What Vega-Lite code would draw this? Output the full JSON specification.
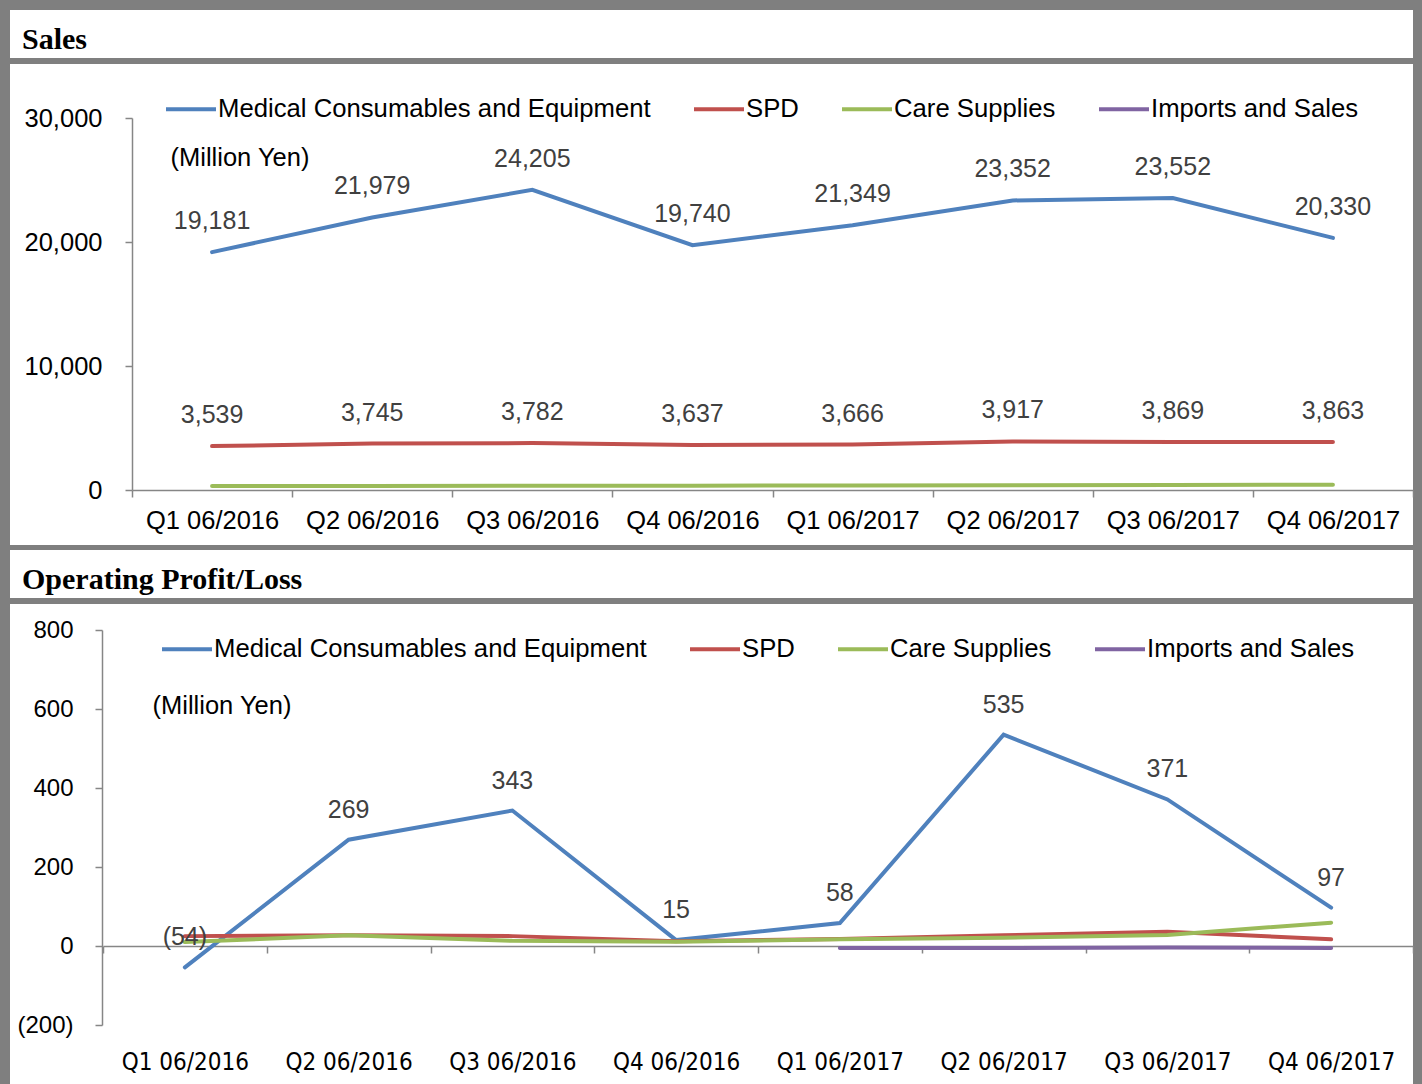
{
  "$schema": "https://vega.github.io/schema/vega-lite/v6.json",
  "background": "#7f7f7f",
  "padding": {"left": 10, "top": 10, "right": 9, "bottom": 0},
  "config": {
    "view": {"fill": "white", "stroke": null},
    "font": "Liberation Sans"
  },
  "resolve": {"scale": {"color": "independent"}, "legend": {"color": "independent"}},
  "datasets": {
    "sales": [
      {"q": "Q1 06/2016", "s": "Medical Consumables and Equipment", "v": 19181},
      {"q": "Q2 06/2016", "s": "Medical Consumables and Equipment", "v": 21979},
      {"q": "Q3 06/2016", "s": "Medical Consumables and Equipment", "v": 24205},
      {"q": "Q4 06/2016", "s": "Medical Consumables and Equipment", "v": 19740},
      {"q": "Q1 06/2017", "s": "Medical Consumables and Equipment", "v": 21349},
      {"q": "Q2 06/2017", "s": "Medical Consumables and Equipment", "v": 23352},
      {"q": "Q3 06/2017", "s": "Medical Consumables and Equipment", "v": 23552},
      {"q": "Q4 06/2017", "s": "Medical Consumables and Equipment", "v": 20330},
      {"q": "Q1 06/2016", "s": "SPD", "v": 3539},
      {"q": "Q2 06/2016", "s": "SPD", "v": 3745},
      {"q": "Q3 06/2016", "s": "SPD", "v": 3782},
      {"q": "Q4 06/2016", "s": "SPD", "v": 3637},
      {"q": "Q1 06/2017", "s": "SPD", "v": 3666},
      {"q": "Q2 06/2017", "s": "SPD", "v": 3917},
      {"q": "Q3 06/2017", "s": "SPD", "v": 3869},
      {"q": "Q4 06/2017", "s": "SPD", "v": 3863},
      {"q": "Q1 06/2016", "s": "Care Supplies", "v": 320},
      {"q": "Q2 06/2016", "s": "Care Supplies", "v": 330},
      {"q": "Q3 06/2016", "s": "Care Supplies", "v": 340},
      {"q": "Q4 06/2016", "s": "Care Supplies", "v": 350},
      {"q": "Q1 06/2017", "s": "Care Supplies", "v": 370},
      {"q": "Q2 06/2017", "s": "Care Supplies", "v": 390},
      {"q": "Q3 06/2017", "s": "Care Supplies", "v": 410},
      {"q": "Q4 06/2017", "s": "Care Supplies", "v": 430}
    ],
    "profit": [
      {"q": "Q1 06/2016", "s": "Medical Consumables and Equipment", "v": -54},
      {"q": "Q2 06/2016", "s": "Medical Consumables and Equipment", "v": 269},
      {"q": "Q3 06/2016", "s": "Medical Consumables and Equipment", "v": 343},
      {"q": "Q4 06/2016", "s": "Medical Consumables and Equipment", "v": 15},
      {"q": "Q1 06/2017", "s": "Medical Consumables and Equipment", "v": 58},
      {"q": "Q2 06/2017", "s": "Medical Consumables and Equipment", "v": 535},
      {"q": "Q3 06/2017", "s": "Medical Consumables and Equipment", "v": 371},
      {"q": "Q4 06/2017", "s": "Medical Consumables and Equipment", "v": 97},
      {"q": "Q1 06/2016", "s": "SPD", "v": 25},
      {"q": "Q2 06/2016", "s": "SPD", "v": 27},
      {"q": "Q3 06/2016", "s": "SPD", "v": 25},
      {"q": "Q4 06/2016", "s": "SPD", "v": 12},
      {"q": "Q1 06/2017", "s": "SPD", "v": 18},
      {"q": "Q2 06/2017", "s": "SPD", "v": 27},
      {"q": "Q3 06/2017", "s": "SPD", "v": 36},
      {"q": "Q4 06/2017", "s": "SPD", "v": 17},
      {"q": "Q1 06/2016", "s": "Care Supplies", "v": 10},
      {"q": "Q2 06/2016", "s": "Care Supplies", "v": 27},
      {"q": "Q3 06/2016", "s": "Care Supplies", "v": 13},
      {"q": "Q4 06/2016", "s": "Care Supplies", "v": 11},
      {"q": "Q1 06/2017", "s": "Care Supplies", "v": 17},
      {"q": "Q2 06/2017", "s": "Care Supplies", "v": 21},
      {"q": "Q3 06/2017", "s": "Care Supplies", "v": 28},
      {"q": "Q4 06/2017", "s": "Care Supplies", "v": 59},
      {"q": "Q1 06/2017", "s": "Imports and Sales", "v": -5},
      {"q": "Q2 06/2017", "s": "Imports and Sales", "v": -5},
      {"q": "Q3 06/2017", "s": "Imports and Sales", "v": -4},
      {"q": "Q4 06/2017", "s": "Imports and Sales", "v": -5}
    ]
  },
  "vconcat": [
    {
      "spacing": 6,
      "resolve": {"scale": {"color": "independent"}, "legend": {"color": "independent"}},
      "vconcat": [
        {
          "width": 1403,
          "height": 48,
          "data": {"values": [{"h": "Sales"}]},
          "mark": {"type": "rect", "fill": "white"},
          "title": {"text": "Sales", "anchor": "start", "frame": "group", "orient": "top", "offset": -37, "dx": 12, "dy": 31.5, "baseline": "alphabetic", "font": "Liberation Serif", "fontSize": 30, "fontWeight": "bold", "color": "black"}
        },
        {
          "width": 1403,
          "height": 481,
          "data": {"name": "sales"},
          "encoding": {
            "x": {
              "field": "q", "type": "ordinal", "bandPosition": 0.5,
              "sort": ["Q1 06/2016", "Q2 06/2016", "Q3 06/2016", "Q4 06/2016", "Q1 06/2017", "Q2 06/2017", "Q3 06/2017", "Q4 06/2017"],
              "scale": {"type": "band", "range": [122, 1403], "paddingInner": 0, "paddingOuter": 0},
              "axis": {"orient": "bottom", "offset": -55, "title": null, "tickBand": "extent", "labelAngle": 0, "labelPadding": 11, "labelBaseline": "top", "tickSize": 7, "labelFont": "Liberation Sans", "labelFontSize": 25.5, "labelColor": "black", "labelLimit": 400, "domainColor": "#868686", "tickColor": "#868686", "domainWidth": 1.5, "tickWidth": 1.5, "grid": false}
            },
            "y": {
              "field": "v", "type": "quantitative",
              "scale": {"domain": [0, 30000], "range": [426, 54], "nice": false, "zero": false},
              "axis": {"orient": "left", "offset": -122, "values": [0, 10000, 20000, 30000], "format": ",.0f", "labelPadding": 23, "tickSize": 7, "labelFont": "Liberation Sans", "labelFontSize": 25.5, "labelColor": "black", "domainColor": "#868686", "tickColor": "#868686", "domainWidth": 1.5, "tickWidth": 1.5, "grid": false,
                "title": "(Million Yen)", "titleAngle": 0, "titleX": 38, "titleY": 93, "titleAlign": "left", "titleBaseline": "middle", "titleFont": "Liberation Sans", "titleFontSize": 25.5, "titleFontWeight": "normal", "titleColor": "black"}
            }
          },
          "layer": [
            {
              "mark": {"type": "line", "strokeWidth": 4, "strokeCap": "round"},
              "encoding": {
                "color": {
                  "field": "s", "type": "nominal",
                  "scale": {"domain": ["Medical Consumables and Equipment", "SPD", "Care Supplies", "Imports and Sales"], "range": ["#4F81BD", "#C0504D", "#9BBB59", "#8064A2"]},
                  "legend": {"orient": "none", "legendX": 154, "legendY": 18, "direction": "horizontal", "columns": 4, "title": null, "symbolType": "stroke", "symbolSize": 2500, "symbolStrokeWidth": 4, "labelFont": "Liberation Sans", "labelFontSize": 25.7, "labelColor": "black", "labelLimit": 600, "columnPadding": 35, "labelOffset": 0}
                }
              }
            },
            {
              "transform": [{"filter": "datum.s == 'Medical Consumables and Equipment' || datum.s == 'SPD'"}],
              "mark": {"type": "text", "dy": -31, "baseline": "middle", "font": "Liberation Sans", "fontSize": 25, "color": "#404040"},
              "encoding": {"text": {"field": "v", "type": "quantitative", "format": ","}}
            }
          ]
        }
      ]
    },
    {
      "spacing": 6,
      "resolve": {"scale": {"color": "independent"}, "legend": {"color": "independent"}},
      "vconcat": [
        {
          "width": 1403,
          "height": 48,
          "data": {"values": [{"h": "Operating Profit/Loss"}]},
          "mark": {"type": "rect", "fill": "white"},
          "title": {"text": "Operating Profit/Loss", "anchor": "start", "frame": "group", "orient": "top", "offset": -37, "dx": 12, "dy": 31.5, "baseline": "alphabetic", "font": "Liberation Serif", "fontSize": 30, "fontWeight": "bold", "color": "black"}
        },
        {
          "width": 1403,
          "height": 480,
          "data": {"name": "profit"},
          "encoding": {
            "x": {
              "field": "q", "type": "ordinal", "bandPosition": 0.5,
              "sort": ["Q1 06/2016", "Q2 06/2016", "Q3 06/2016", "Q4 06/2016", "Q1 06/2017", "Q2 06/2017", "Q3 06/2017", "Q4 06/2017"],
              "scale": {"type": "band", "range": [93, 1403], "paddingInner": 0, "paddingOuter": 0},
              "axis": {"orient": "bottom", "offset": -138, "title": null, "tickBand": "extent", "labelAngle": 0, "labelPadding": 97, "labelBaseline": "top", "tickSize": 7, "labelFont": "Liberation Sans Narrow, DejaVu Sans Condensed, Liberation Sans", "labelFontSize": 24, "labelColor": "black", "labelLimit": 400, "domainColor": "#868686", "tickColor": "#868686", "domainWidth": 1.5, "tickWidth": 1.5, "grid": false}
            },
            "y": {
              "field": "v", "type": "quantitative",
              "scale": {"domain": [-200, 800], "range": [421, 26], "nice": false, "zero": false},
              "axis": {"orient": "left", "offset": -92, "values": [-200, 0, 200, 400, 600, 800], "format": "(,.0f", "labelPadding": 22, "tickSize": 7, "labelFont": "Liberation Sans", "labelFontSize": 24, "labelColor": "black", "domainColor": "#868686", "tickColor": "#868686", "domainWidth": 1.5, "tickWidth": 1.5, "grid": false,
                "title": "(Million Yen)", "titleAngle": 0, "titleX": 50, "titleY": 101, "titleAlign": "left", "titleBaseline": "middle", "titleFont": "Liberation Sans", "titleFontSize": 25.5, "titleFontWeight": "normal", "titleColor": "black"}
            }
          },
          "layer": [
            {
              "mark": {"type": "line", "strokeWidth": 4, "strokeCap": "round"},
              "encoding": {
                "color": {
                  "field": "s", "type": "nominal",
                  "scale": {"domain": ["Medical Consumables and Equipment", "SPD", "Care Supplies", "Imports and Sales"], "range": ["#4F81BD", "#C0504D", "#9BBB59", "#8064A2"]},
                  "legend": {"orient": "none", "legendX": 150, "legendY": 18, "direction": "horizontal", "columns": 4, "title": null, "symbolType": "stroke", "symbolSize": 2500, "symbolStrokeWidth": 4, "labelFont": "Liberation Sans", "labelFontSize": 25.7, "labelColor": "black", "labelLimit": 600, "columnPadding": 35, "labelOffset": 0}
                }
              }
            },
            {
              "transform": [{"filter": "datum.s == 'Medical Consumables and Equipment'"}],
              "mark": {"type": "text", "dy": -30, "baseline": "middle", "font": "Liberation Sans", "fontSize": 25, "color": "#404040"},
              "encoding": {"text": {"field": "v", "type": "quantitative", "format": "(,.0f"}}
            }
          ]
        }
      ]
    }
  ],
  "spacing": 5
}
